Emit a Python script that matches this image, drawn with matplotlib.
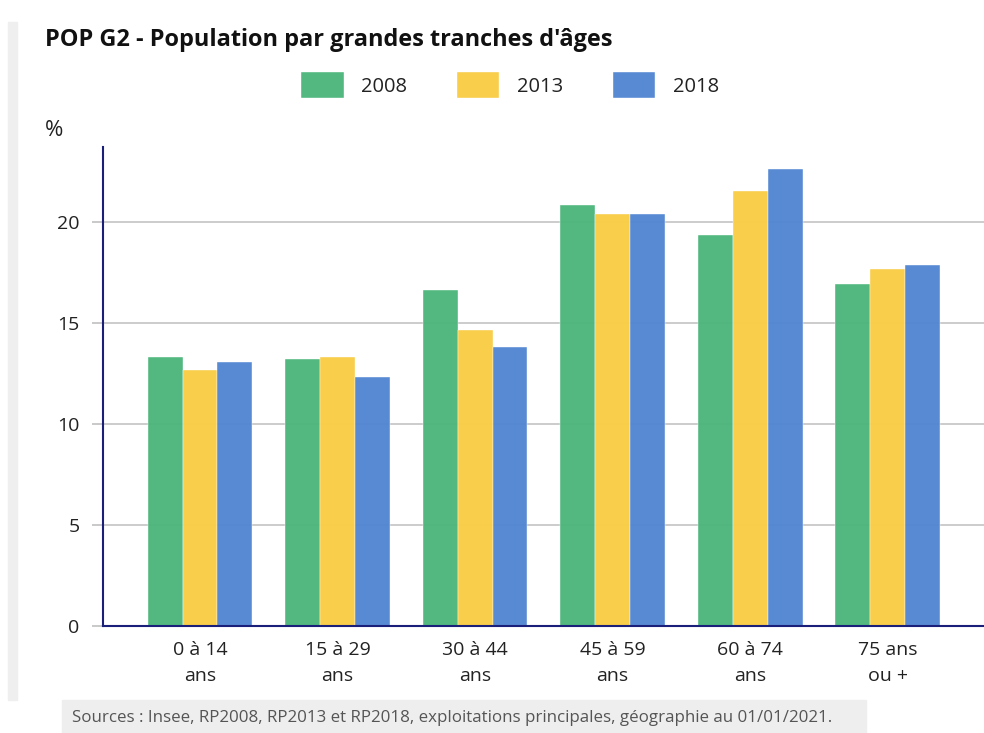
import matplotlib
matplotlib.use("Agg")
import matplotlib.pyplot as plt
from matplotlib.patches import Rectangle
import numpy as np

plt.rcParams['font.family'] = ['Open Sans', 'DejaVu Sans']

categories = ["0 à 14\nans", "15 à 29\nans", "30 à 44\nans", "45 à 59\nans", "60 à 74\nans", "75 ans\nou +"]
years = ["2008", "2013", "2018"]
pop_2008 = [13.3, 13.2, 16.6, 20.85, 19.35, 16.9]
pop_2013 = [12.65, 13.3, 14.65, 20.4, 21.5, 17.65]
pop_2018 = [13.05, 12.3, 13.8, 20.4, 22.6, 17.85]
colors = ["#4cb67b", "#f9cd45", "#5286d2"]

W, H = 984, 733
fig = plt.figure(figsize=(W / 100, H / 100), dpi=100)

# page decorations: left strip and sources box
fig.patches.append(Rectangle((8 / W, (H - 700) / H), 9 / W, 678 / H,
                             transform=fig.transFigure, color="#efefef", zorder=0))
fig.patches.append(Rectangle((62 / W, 0), (866 - 62) / W, (733 - 700) / H,
                             transform=fig.transFigure, color="#eeeeee", zorder=0))

ax = fig.add_axes([103 / W, (H - 626) / H, (984 - 103) / W, (626 - 147) / H])

x = np.arange(len(categories))
width = 0.254
series = [pop_2008, pop_2013, pop_2018]
for i, (vals, col, yr) in enumerate(zip(series, colors, years)):
    ax.bar(x + (i - 1) * width, vals, width, color=col, alpha=0.97,
           edgecolor="white", linewidth=0.3, label=yr, zorder=3)

ax.set_xlim(-0.705, 5.70)
ax.set_ylim(0, 23.7)
ax.set_yticks([0, 5, 10, 15, 20])
ax.set_xticks(x)
ax.set_xticklabels(categories, fontsize=14, color="#222222", linespacing=1.55)
ax.tick_params(axis="x", length=0, pad=11)
ax.tick_params(axis="y", length=8, width=1.2, color="#c0c0c0", labelsize=14,
               labelcolor="#222222", pad=9)
ax.grid(axis="y", color="#c8c8c8", linewidth=1.3, zorder=4)
for s in ["top", "right"]:
    ax.spines[s].set_visible(False)
for s in ["left", "bottom"]:
    ax.spines[s].set_color("#1a1f7a")
    ax.spines[s].set_linewidth(1.5)
    ax.spines[s].set_zorder(5)

fig.text(45 / W, 1 - 40 / H, "POP G2 - Population par grandes tranches d'âges",
         fontsize=16.9, fontweight="bold", va="center", ha="left", color="#111111")
fig.text(45 / W, 1 - 130 / H, "%", fontsize=16, va="center", ha="left", color="#222222")

leg = fig.legend(loc="center", bbox_to_anchor=(510 / W, 1 - 85 / H), ncol=3,
                 frameon=False, fontsize=14.5, handlelength=2.1, handleheight=1.6,
                 columnspacing=2.5, handletextpad=0.85)
for t in leg.get_texts():
    t.set_color("#222222")

fig.text(72 / W, 1 - 718 / H,
         "Sources : Insee, RP2008, RP2013 et RP2018, exploitations principales, géographie au 01/01/2021.",
         fontsize=12.2, va="center", ha="left", color="#555555")

fig.savefig("out.png", dpi=100)
